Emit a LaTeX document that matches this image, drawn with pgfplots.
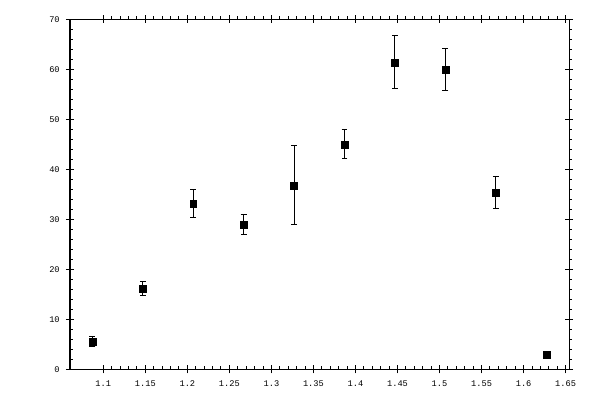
\documentclass[border=0pt]{standalone}
\usepackage{fontspec}
\usepackage{pgfplots}
\pgfplotsset{compat=1.18}
\newfontfamily\tickfont{Liberation Mono}

\pgfplotsset{
  frame/.style={
    scale only axis,
    width=374.25pt, height=262.6pt,
    at={(52.5pt,22.9pt)}, anchor=south west,
    xmin=1.0604, xmax=1.654, ymin=0, ymax=70,
    xtick={1.1,1.15,...,1.65}, ytick={0,10,...,70},
    axis line style={line width=0.75pt},
    every tick/.style={black, line width=0.75pt},
  },
}

\begin{document}
\begin{tikzpicture}
\useasboundingbox (0,0) rectangle (450pt,300pt);

% minor ticks, bottom and left: they point into the box
\begin{axis}[frame,
  xtick pos=bottom, ytick pos=left,
  tick align=inside, major tick length=0pt, minor tick length=2.4pt,
  minor x tick num=4, minor y tick num=4,
  xticklabels={}, yticklabels={},
]
\end{axis}

% minor ticks, top and right: they point out of the box
\begin{axis}[frame,
  xtick pos=top, ytick pos=right,
  tick align=outside, major tick length=0pt, minor tick length=2.4pt,
  minor x tick num=4, minor y tick num=4,
  xticklabels={}, yticklabels={},
]
\end{axis}

% major ticks, labels and data
\begin{axis}[frame,
  tick align=center, major tick length=6pt,
  /pgf/number format/assume math mode=true,
  /pgf/number format/.cd, fixed, precision=2, /pgfplots/.cd,
  ticklabel style={font=\fontsize{6.5}{7}\tickfont},
  xticklabel style={yshift=-2.2pt},
  yticklabel style={xshift=-1.2pt},
  xtick pos=both, ytick pos=both,
  xticklabel pos=bottom, yticklabel pos=left,
]
\addplot[only marks, mark=square*, mark size=2.6pt, black,
  error bars/.cd, y dir=both, y explicit,
  error bar style={line width=0.75pt, black},
  error mark options={rotate=90, line width=0.75pt, mark size=2.2pt, black},
] table[x=x, y=y, y error=e] {
x      y     e
1.087  5.6   1.0
1.147  16.2  1.4
1.207  33.1  2.8
1.267  29.0  2.0
1.327  36.8  7.9
1.387  45.0  2.9
1.447  61.4  5.3
1.507  60.0  4.2
1.567  35.4  3.2
1.627  3.0   0.3
};
\end{axis}
\end{tikzpicture}
\end{document}
